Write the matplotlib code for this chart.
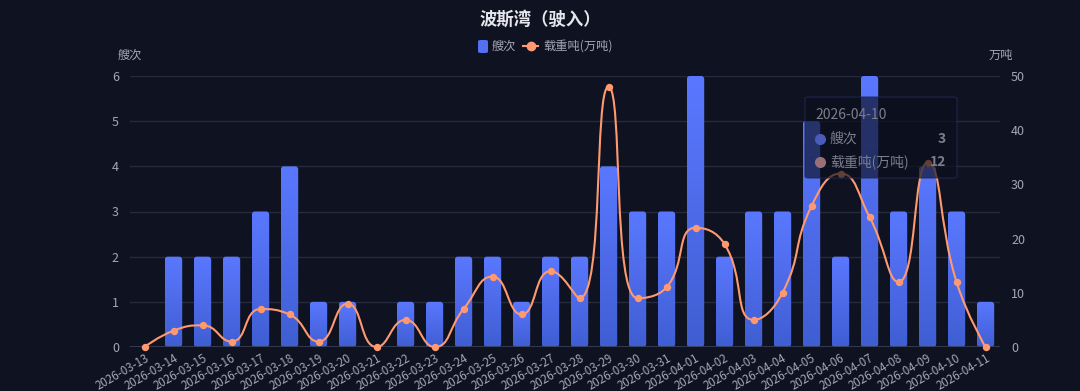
import numpy as np
import matplotlib
matplotlib.use("Agg")
import matplotlib.pyplot as plt
from matplotlib.path import Path
from matplotlib.patches import PathPatch, FancyBboxPatch
from matplotlib.lines import Line2D

plt.rcParams['font.family'] = ['Noto Sans CJK SC', 'DejaVu Sans']

# ---------------- data ----------------
dates = ["2026-03-13", "2026-03-14", "2026-03-15", "2026-03-16", "2026-03-17",
         "2026-03-18", "2026-03-19", "2026-03-20", "2026-03-21", "2026-03-22",
         "2026-03-23", "2026-03-24", "2026-03-25", "2026-03-26", "2026-03-27",
         "2026-03-28", "2026-03-29", "2026-03-30", "2026-03-31", "2026-04-01",
         "2026-04-02", "2026-04-03", "2026-04-04", "2026-04-05", "2026-04-06",
         "2026-04-07", "2026-04-08", "2026-04-09", "2026-04-10", "2026-04-11"]
ships = [0, 2, 2, 2, 3, 4, 1, 1, 0, 1, 1, 2, 2, 1, 2, 2, 4, 3, 3, 6,
         2, 3, 3, 5, 2, 6, 3, 4, 3, 1]
tons = [0, 3, 4, 1, 7, 6, 1, 8, 0, 5, 0, 7, 13, 6, 14, 9, 48, 9, 11, 22,
        19, 5, 10, 26, 32, 24, 12, 34, 12, 0]
left_ticks = [0, 1, 2, 3, 4, 5, 6]
right_ticks = [0, 10, 20, 30, 40, 50]
title = "波斯湾（驶入）"
series_names = ["艘次", "载重吨(万吨)"]
left_name = "艘次"
right_name = "万吨"
tip_date = "2026-04-10"

# ---------------- style ----------------
BG = "#0f1221"
GRID = "#252a3d"
TXT = "#a3a6b3"
BAR_TOP = np.array([0x5a, 0x78, 0xff]) / 255
BAR_BOT = np.array([0x40, 0x5e, 0xd2]) / 255
LINE = "#ff9a70"

W, H = 1080, 391
fig = plt.figure(figsize=(W / 100, H / 100), dpi=100, facecolor=BG)
L, R, T, B = 130, 1000, 76, 347
ax = fig.add_axes([L / W, 1 - B / H, (R - L) / W, (B - T) / H])
ax.set_facecolor(BG)
ax2 = ax.twinx()
ax2.patch.set_visible(False)

n = len(dates)
x = np.arange(n)
ax.set_xlim(-0.5, n - 0.5)
ax.set_ylim(0, 6)
ax2.set_ylim(0, 50)

# grid
ax.set_yticks(left_ticks)
ax.grid(axis='y', color=GRID, lw=1)
ax.set_axisbelow(True)
for a in (ax, ax2):
    for s in a.spines.values():
        s.set_visible(False)
ax.axhline(0, color="#3b4055", lw=1.2, zorder=3)

# bars with gradient + rounded top
bars = ax.bar(x, ships, width=0.6, color='none', edgecolor='none', zorder=2)
grad = np.linspace(0, 1, 256).reshape(-1, 1)
img = np.zeros((256, 1, 3))
for c in range(3):
    img[:, 0, c] = BAR_TOP[c] * (1 - grad[:, 0]) + BAR_BOT[c] * grad[:, 0]
xpx = (R - L) / n
ypx = (B - T) / 6.0
for b in bars:
    h = b.get_height()
    if h <= 0:
        continue
    x0 = b.get_x()
    w = b.get_width()
    r = 3.0 / xpx
    patch = FancyBboxPatch((x0, 0), w, h,
                           boxstyle=f"round,pad=0,rounding_size={r}",
                           mutation_aspect=(xpx / ypx),
                           facecolor='none', edgecolor='none', transform=ax.transData)
    ax.add_patch(patch)
    im = ax.imshow(img, extent=(x0, x0 + w, 0, h), origin='upper',
                   aspect='auto', zorder=2, interpolation='bilinear')
    im.set_clip_path(patch)
ax.set_xlim(-0.5, n - 0.5)
ax.set_ylim(0, 6)

# smooth line (ECharts-like bezier) on right axis
fig.canvas.draw()
pts = ax2.transData.transform(np.column_stack([x, tons]))
smooth = 0.5
verts = [tuple(pts[0])]
codes = [Path.MOVETO]
cpx0, cpy0 = pts[0]
prevX, prevY = pts[0]
for i in range(1, n):
    X, Y = pts[i]
    if i == n - 1:
        cpx1, cpy1 = X, Y
        ncx, ncy = X, Y
    else:
        nX, nY = pts[i + 1]
        vx, vy = nX - prevX, nY - prevY
        lp = np.hypot(X - prevX, Y - prevY)
        ln = np.hypot(nX - X, nY - Y)
        ratio = ln / (ln + lp)
        ncx = X + vx * smooth * ratio
        ncy = Y + vy * smooth * ratio
        ncx = min(ncx, max(nX, X)); ncy = min(ncy, max(nY, Y))
        ncx = max(ncx, min(nX, X)); ncy = max(ncy, min(nY, Y))
        vx, vy = ncx - X, ncy - Y
        cpx1 = X - vx * lp / ln
        cpy1 = Y - vy * lp / ln
        cpx1 = min(cpx1, max(prevX, X)); cpy1 = min(cpy1, max(prevY, Y))
        cpx1 = max(cpx1, min(prevX, X)); cpy1 = max(cpy1, min(prevY, Y))
        vx, vy = X - cpx1, Y - cpy1
        ncx = X + vx * ln / lp
        ncy = Y + vy * ln / lp
    verts += [(cpx0, cpy0), (cpx1, cpy1), (X, Y)]
    codes += [Path.CURVE4] * 3
    cpx0, cpy0 = ncx, ncy
    prevX, prevY = X, Y
inv = ax2.transData.inverted()
dverts = inv.transform(np.array(verts))
ax2.add_patch(PathPatch(Path(dverts, codes), facecolor='none', edgecolor=LINE,
                        lw=1.5, zorder=4, clip_on=False))
ax2.plot(x, tons, ls='none', marker='o', ms=4.3, color=LINE, zorder=5, clip_on=False)
ax2.set_ylim(0, 50)

# ticks
ax.set_xticks(x)
ax.set_xticklabels(dates, rotation=30, ha='right', va='top',
                   rotation_mode='anchor', fontsize=8.3, color=TXT)
ax.tick_params(axis='x', length=0, pad=3)
ax.tick_params(axis='y', length=0, pad=8, labelsize=9, labelcolor=TXT)
ax.set_yticklabels([str(v) for v in left_ticks])
ax2.set_yticks(right_ticks)
ax2.set_yticklabels([str(v) for v in right_ticks])
ax2.tick_params(axis='y', length=0, pad=8, labelsize=9, labelcolor=TXT)

# titles and names
fig.text(0.5, 1 - 20 / H, title, ha='center', va='center', fontsize=12.5,
         color="#e6e7ec", fontweight='bold')
fig.text(130 / W, 1 - 55 / H, left_name, ha='center', va='center', fontsize=8.8, color=TXT)
fig.text(1001 / W, 1 - 55 / H, right_name, ha='center', va='center', fontsize=8.8, color=TXT)

# legend
ly = 1 - 46 / H
fig.patches.append(FancyBboxPatch((478 / W, 1 - 53 / H), 10 / W, 13 / H,
                                  boxstyle="round,pad=0,rounding_size=0.003",
                                  transform=fig.transFigure, facecolor="#5470f0",
                                  edgecolor='none'))
fig.text(492 / W, ly, series_names[0], ha='left', va='center', fontsize=8.8, color=TXT)
fig.lines.append(Line2D([523 / W, 538 / W], [ly, ly], transform=fig.transFigure,
                        color=LINE, lw=1.5))
fig.lines.append(Line2D([530.5 / W], [ly], transform=fig.transFigure, marker='o',
                        ms=6, color=LINE))
fig.text(543 / W, ly, series_names[1], ha='left', va='center', fontsize=8.8, color=TXT)

# tooltip overlay
tx0, ty0, tx1, ty1 = 805, 97, 957, 178
fig.patches.append(FancyBboxPatch((tx0 / W, 1 - ty1 / H), (tx1 - tx0) / W, (ty1 - ty0) / H,
                                  boxstyle="round,pad=0,rounding_size=0.004",
                                  transform=fig.transFigure, facecolor="#0b0e1c",
                                  alpha=0.65, edgecolor="#1f2a5a", lw=1, zorder=10))
tc = "#7b7e8a"
fig.text(815 / W, 1 - 115 / H, tip_date, ha='left', va='center', fontsize=10,
         color=tc, zorder=11)
fig.lines.append(Line2D([820 / W], [1 - 139 / H], transform=fig.transFigure, marker='o',
                        ms=7, color="#4a5bb8", zorder=11))
fig.lines.append(Line2D([820 / W], [1 - 162 / H], transform=fig.transFigure, marker='o',
                        ms=7, color="#9a6f76", zorder=11))
fig.text(830 / W, 1 - 139 / H, series_names[0], ha='left', va='center', fontsize=10,
         color=tc, zorder=11)
fig.text(830 / W, 1 - 162 / H, series_names[1], ha='left', va='center', fontsize=10,
         color=tc, zorder=11)
fig.text(946 / W, 1 - 139 / H, str(ships[dates.index(tip_date)]), ha='right', va='center',
         fontsize=10, color=tc, fontweight='bold', zorder=11)
fig.text(946 / W, 1 - 162 / H, str(tons[dates.index(tip_date)]), ha='right', va='center',
         fontsize=10, color=tc, fontweight='bold', zorder=11)

fig.savefig("out.png", dpi=100, facecolor=BG)
